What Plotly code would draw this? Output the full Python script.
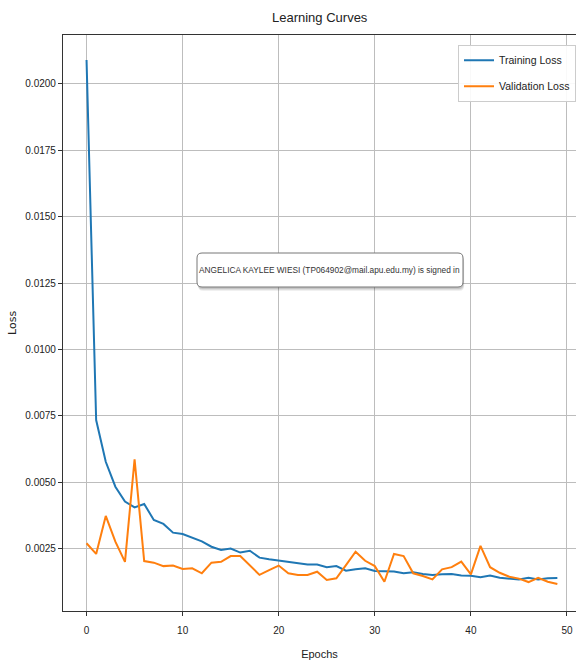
import plotly.graph_objects as go

# Per-epoch loss history
epochs = list(range(50))
training_loss = [
    0.0209, 0.00734, 0.00577, 0.00483, 0.00427, 0.00405, 0.00418, 0.00358, 0.00343, 0.0031,
    0.00305, 0.00292, 0.00277, 0.00257, 0.00245, 0.0025, 0.00235, 0.00242, 0.00216, 0.0021,
    0.00205, 0.002, 0.00197, 0.0019, 0.0019, 0.0018, 0.00184, 0.00167, 0.00172, 0.00176,
    0.00166, 0.00164, 0.00164, 0.00157, 0.00161, 0.00154, 0.00151, 0.00153, 0.00154, 0.00149,
    0.00148, 0.00142, 0.00149, 0.0014, 0.00138, 0.00134, 0.0014, 0.00134, 0.00138, 0.00139,
]
validation_loss = [
    0.0027, 0.0023, 0.00373, 0.00276, 0.002, 0.00586, 0.00203, 0.00197, 0.00184, 0.00186,
    0.00173, 0.00176, 0.00157, 0.00197, 0.002, 0.00222, 0.00222, 0.00188, 0.00151, 0.00169,
    0.00186, 0.00157, 0.00151, 0.00151, 0.00163, 0.00132, 0.00138, 0.00188, 0.00238, 0.00204,
    0.00184, 0.00125, 0.0023, 0.00222, 0.00157, 0.00147, 0.00134, 0.00172, 0.0018, 0.00201,
    0.00153, 0.0026, 0.0018, 0.00159, 0.00144, 0.00137, 0.00124, 0.0014, 0.00125, 0.00117,
]
x_ticks = [0, 10, 20, 30, 40, 50]
y_ticks = [0.0025, 0.0050, 0.0075, 0.0100, 0.0125, 0.0150, 0.0175, 0.0200]
y_tick_text = [f"{v:.4f}" for v in y_ticks]

font_main = "Liberation Sans, Arial, sans-serif"
ink = "#222222"

fig = go.Figure()
fig.add_trace(go.Scatter(x=epochs, y=training_loss, mode="lines", name="Training Loss",
                         legendgroup="train", line=dict(color="#1f77b4", width=2)))
fig.add_trace(go.Scatter(x=epochs, y=validation_loss, mode="lines", name="Validation Loss",
                         legendgroup="val", line=dict(color="#ff7f0e", width=2)))

axis_common = dict(
    showgrid=True, gridcolor="#bdbdbd", gridwidth=1,
    showline=True, linecolor="#333333", linewidth=1.2,
    ticks="outside", ticklen=4, tickcolor="#333333",
    zeroline=False, automargin=False,
    tickfont=dict(family=font_main, size=10, color=ink),
)

fig.update_layout(
    width=576, height=664,
    margin=dict(l=63, r=0, t=35, b=53, autoexpand=False),
    paper_bgcolor="white", plot_bgcolor="white",
    title=dict(text="Learning Curves", x=0.555, xanchor="center", y=0.973, yanchor="middle",
               font=dict(family=font_main, size=13, color=ink)),
    xaxis=dict(range=[-2.45, 50.94], tickvals=x_ticks, mirror=True, ticklabelstandoff=6,
               title=dict(text="Epochs", font=dict(family=font_main, size=11, color=ink),
                          standoff=15),
               **axis_common),
    yaxis=dict(range=[0.00015, 0.02184], tickvals=y_ticks, ticktext=y_tick_text,
               **axis_common),
    legend=dict(x=1.0, y=0.983, xanchor="right", yanchor="top",
                bgcolor="rgba(255,255,255,0.9)", bordercolor="#cccccc", borderwidth=1,
                font=dict(family=font_main, size=10.5, color=ink), itemwidth=30,
                tracegroupgap=7),
    showlegend=True,
)

# y-axis label, left of the tick labels
fig.add_annotation(text="Loss", xref="paper", yref="paper", x=-(63 - 12) / 513, y=0.5,
                   xanchor="center", yanchor="middle", textangle=-90, showarrow=False,
                   font=dict(family="DejaVu Sans", size=11, color=ink))

# Sign-in notice overlay: rounded card with a soft shadow
card_x0, card_x1 = (197 - 63) / 513, (463 - 63) / 513
card_y0, card_y1 = (611 - 287) / 576, (611 - 253) / 576


def rounded_rect(x0, y0, x1, y1, rx, ry):
    return (f"M{x0 + rx},{y0} L{x1 - rx},{y0} Q{x1},{y0} {x1},{y0 + ry} "
            f"L{x1},{y1 - ry} Q{x1},{y1} {x1 - rx},{y1} L{x0 + rx},{y1} "
            f"Q{x0},{y1} {x0},{y1 - ry} L{x0},{y0 + ry} Q{x0},{y0} {x0 + rx},{y0} Z")


rx, ry = 5 / 513, 5 / 576
for off, alpha in [(4, 0.06), (3, 0.08), (2, 0.10)]:
    fig.add_shape(type="path", xref="paper", yref="paper",
                  path=rounded_rect(card_x0 + off / 513 * 0.3, card_y0 - off / 576,
                                    card_x1 + off / 513 * 0.3, card_y1 - off / 576, rx, ry),
                  fillcolor=f"rgba(0,0,0,{alpha})", line=dict(width=0), layer="above")
fig.add_shape(type="path", xref="paper", yref="paper",
              path=rounded_rect(card_x0, card_y0, card_x1, card_y1, rx, ry),
              fillcolor="white", line=dict(color="#777777", width=1), layer="above")
fig.add_annotation(
    text="ANGELICA KAYLEE WIESI (TP064902@mail.apu.edu.my) is signed in",
    xref="paper", yref="paper", x=(card_x0 + card_x1) / 2, y=(card_y0 + card_y1) / 2,
    showarrow=False, font=dict(family=font_main, size=8.3, color="#333333"),
)

fig.write_html("out.html")
